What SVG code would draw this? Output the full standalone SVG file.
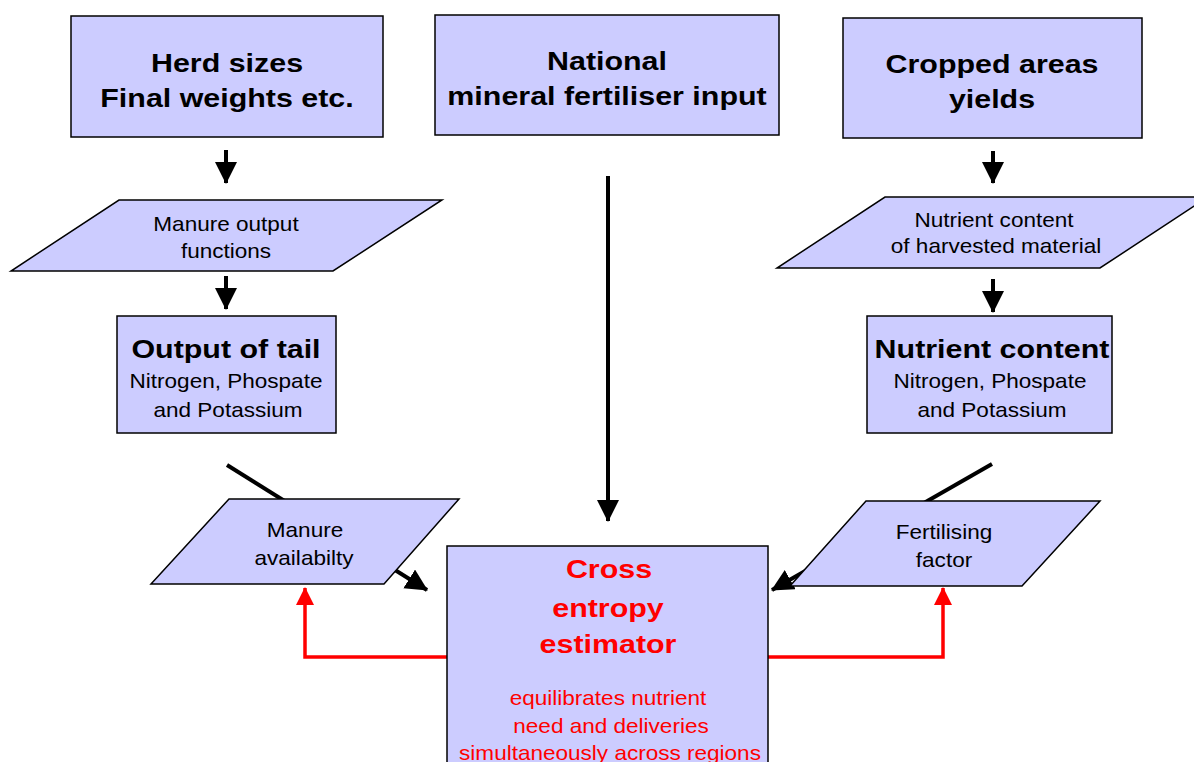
<svg xmlns="http://www.w3.org/2000/svg" width="1194" height="762" viewBox="0 0 1194 762">
<defs>
<style>
.box{fill:#ccccff;stroke:#000;stroke-width:1.5}
.b{font-family:"Liberation Sans",Arial,sans-serif;font-weight:bold;font-size:26px;text-anchor:middle;fill:#000}
.r{font-family:"Liberation Sans",Arial,sans-serif;font-size:20.5px;text-anchor:middle;fill:#000}
.red{fill:#ff0000}
.k{stroke:#000;stroke-width:4;fill:none}
.rl{stroke:#ff0000;stroke-width:3.5;fill:none}
</style>
<marker id="ah" markerUnits="userSpaceOnUse" markerWidth="24" markerHeight="24" refX="21" refY="11" orient="auto"><path d="M0,0 L22,11 L0,22 z" fill="#000"/></marker>
<marker id="rh" markerUnits="userSpaceOnUse" markerWidth="20" markerHeight="20" refX="17" refY="9" orient="auto"><path d="M0,0 L18,9 L0,18 z" fill="#ff0000"/></marker>
</defs>
<rect width="1194" height="762" fill="#fff"/>
<g id="connectors">
<line class="k" x1="226" y1="150" x2="226" y2="183" marker-end="url(#ah)"/>
<line class="k" x1="226" y1="276" x2="226" y2="309" marker-end="url(#ah)"/>
<line class="k" x1="993" y1="151" x2="993" y2="183" marker-end="url(#ah)"/>
<line class="k" x1="993" y1="279" x2="993" y2="312" marker-end="url(#ah)"/>
<line class="k" x1="608" y1="176" x2="608" y2="521" marker-end="url(#ah)"/>
<line class="k" x1="227" y1="465" x2="427" y2="590" marker-end="url(#ah)"/>
<line class="k" x1="992" y1="464" x2="772" y2="590" marker-end="url(#ah)"/>
<path class="rl" d="M447,657 H305 V588" marker-end="url(#rh)"/>
<path class="rl" d="M768,657 H943 V588" marker-end="url(#rh)"/>
</g>
<g id="herd">
<rect class="box" x="71" y="16" width="312" height="121"/>
<text class="b" transform="translate(227,72) scale(1.17,1)">Herd sizes</text>
<text class="b" transform="translate(227,107) scale(1.17,1)">Final weights etc.</text>
</g>
<g id="national">
<rect class="box" x="435" y="15" width="344" height="120"/>
<text class="b" transform="translate(607,70) scale(1.17,1)">National</text>
<text class="b" transform="translate(607,105) scale(1.17,1)">mineral fertiliser input</text>
</g>
<g id="cropped">
<rect class="box" x="843" y="18" width="299" height="120"/>
<text class="b" transform="translate(992,73) scale(1.17,1)">Cropped areas</text>
<text class="b" transform="translate(992,108) scale(1.17,1)">yields</text>
</g>
<g id="manure-output">
<polygon class="box" points="119,200 442,200 333,271 11,271"/>
<text class="r" transform="translate(226,231) scale(1.1,1)">Manure output</text>
<text class="r" transform="translate(226,258) scale(1.1,1)">functions</text>
</g>
<g id="harvested">
<polygon class="box" points="885,197 1208,197 1100,268 777,268"/>
<text class="r" transform="translate(994,227) scale(1.1,1)">Nutrient content</text>
<text class="r" transform="translate(996,253) scale(1.1,1)">of harvested material</text>
</g>
<g id="tail">
<rect class="box" x="117" y="316" width="219" height="117"/>
<text class="b" transform="translate(226,358) scale(1.17,1)">Output of tail</text>
<text class="r" transform="translate(226,388) scale(1.1,1)">Nitrogen, Phospate</text>
<text class="r" transform="translate(228,417) scale(1.1,1)">and Potassium</text>
</g>
<g id="nutrient">
<rect class="box" x="867" y="316" width="245" height="117"/>
<text class="b" transform="translate(992,358) scale(1.17,1)">Nutrient content</text>
<text class="r" transform="translate(990,388) scale(1.1,1)">Nitrogen, Phospate</text>
<text class="r" transform="translate(992,417) scale(1.1,1)">and Potassium</text>
</g>
<g id="availability">
<polygon class="box" points="229,499 459,499 384,584 151,584"/>
<text class="r" transform="translate(305,537) scale(1.1,1)">Manure</text>
<text class="r" transform="translate(304,565) scale(1.1,1)">availabilty</text>
</g>
<g id="fertilising">
<polygon class="box" points="866,501 1100,501 1022,586 790,586"/>
<text class="r" transform="translate(944,539) scale(1.1,1)">Fertilising</text>
<text class="r" transform="translate(944,567) scale(1.1,1)">factor</text>
</g>
<g id="estimator">
<rect class="box" x="447" y="546" width="321" height="230"/>
<text class="b red" transform="translate(609,578) scale(1.17,1)">Cross</text>
<text class="b red" transform="translate(608,617) scale(1.17,1)">entropy</text>
<text class="b red" transform="translate(608,653) scale(1.17,1)">estimator</text>
<text class="r red" transform="translate(608,705) scale(1.1,1)">equilibrates nutrient</text>
<text class="r red" transform="translate(611,733) scale(1.1,1)">need and deliveries</text>
<text class="r red" transform="translate(610,760) scale(1.1,1)">simultaneously across regions</text>
</g>
</svg>
